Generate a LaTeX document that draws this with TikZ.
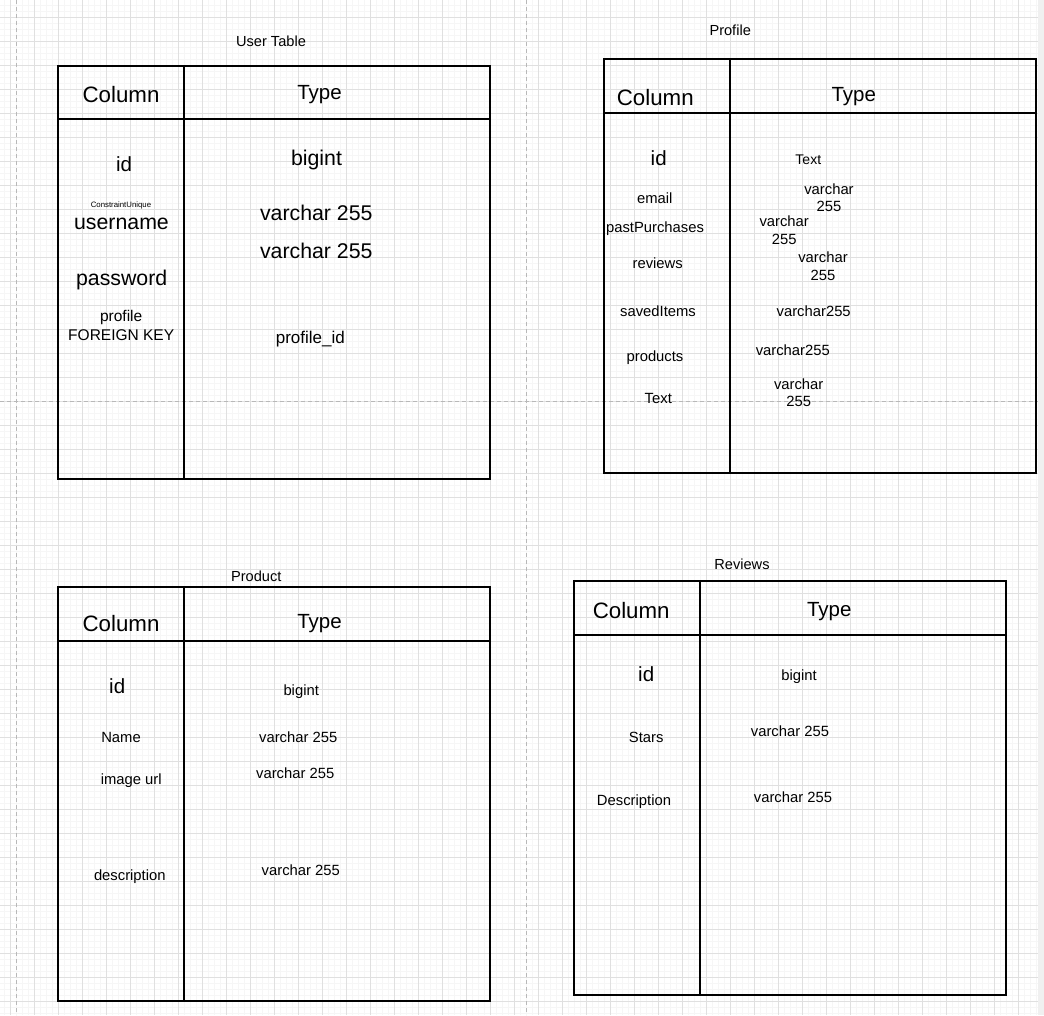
\documentclass[tikz,border=0pt]{standalone}
\usepackage{fontspec}
\setmainfont{Liberation Sans}
\newcommand\fsz[2]{\fontsize{#1}{#2}\selectfont}
\begin{document}
\begin{tikzpicture}[x=1pt,y=-1pt,
  minorgrid/.style={draw=black!3.5, line width=0.6pt},
  majorgrid/.style={draw=black!12, line width=0.9pt},
  pagebreak/.style={draw=black!28, line width=1pt, dash pattern=on 4pt off 3pt},
  tbl/.style={draw=black, line width=1.3pt},
  lbl/.style={inner sep=0pt, anchor=base, text=black},
  title/.style={lbl, font=\fsz{14.6}{17}},
  colhead/.style={lbl, font=\fsz{22.3}{26}},
  typehead/.style={lbl, font=\fsz{20.5}{24}},
  big/.style={lbl, font=\fsz{21.3}{25}},
  small/.style={lbl, font=\fsz{14.8}{17.4}, align=center}
]
\useasboundingbox (0,0) rectangle (1044,1015);
\fill[white] (0,0) rectangle (1044,1015);
% grid
\begin{scope}
\clip (0,0) rectangle (1038,1015);
\foreach \i in {0,...,172} \draw[minorgrid] ({4.5+6*\i},0) -- ({4.5+6*\i},1015);
\foreach \i in {0,...,168} \draw[minorgrid] (0,{5.5+6*\i}) -- (1038,{5.5+6*\i});
\foreach \i in {0,...,42} \draw[majorgrid] ({10.5+24*\i},0) -- ({10.5+24*\i},1015);
\foreach \i in {0,...,41} \draw[majorgrid] (0,{17.5+24*\i}) -- (1038,{17.5+24*\i});
% page breaks
\draw[pagebreak] (16,0) -- (16,1015);
\draw[pagebreak] (526,0) -- (526,1015);
\draw[pagebreak] (0,401) -- (1038,401);
\end{scope}
\fill[black!6] (1038,0) rectangle (1044,1015);

% ---------- User Table ----------
\node[title] (ut) at (271,46.7) {User Table};
\draw[tbl] (58,66) rectangle (490,479);
\draw[tbl] (184,66) -- (184,479);
\draw[tbl] (58,119) -- (490,119);
\node[colhead] (utc) at (121,102.7) {Column};
\node[typehead] (utt) at (319.5,99.7) {Type};
\node[lbl, font=\fsz{20.5}{24}] (ut1) at (124,171.7) {id};
\node[big] (ut1t) at (316.5,165) {bigint};
\node[lbl, font=\fsz{7.8}{9}] (utcu) at (121,207.3) {ConstraintUnique};
\node[big] (ut2) at (121.5,229.3) {username};
\node[big] (ut2t) at (316.3,220) {varchar 255};
\node[big] (ut3t) at (316.3,258.3) {varchar 255};
\node[big] (ut3) at (121.7,285) {password};
\node[lbl, font=\fsz{15.5}{19}, align=center] (ut4) at (121.2,340.7) {profile\\FOREIGN KEY};
\node[lbl, font=\fsz{17}{20}] (ut4t) at (310.3,343.5) {profile\_id};

% ---------- Profile ----------
\node[title] (pt) at (730.2,35) {Profile};
\draw[tbl] (604,59) rectangle (1036,473);
\draw[tbl] (730,59) -- (730,473);
\draw[tbl] (604,113) -- (1036,113);
\node[colhead] (ptc) at (655.3,105) {Column};
\node[typehead] (ptt) at (853.8,101.7) {Type};
\node[lbl, font=\fsz{20.5}{24}] (p1) at (658.7,165.7) {id};
\node[lbl, font=\fsz{14}{17}] (p1t) at (808.3,164) {Text};
\node[small] (p2) at (654.8,203.3) {email};
\node[small] (p2t) at (829,211.7) {varchar\\255};
\node[small] (p3) at (655,232.7) {pastPurchases};
\node[small] (p3t) at (784.2,244) {varchar\\255};
\node[small] (p4) at (657.7,268.3) {reviews};
\node[small] (p4t) at (823,280) {varchar\\255};
\node[small] (p5) at (658,316.7) {savedItems};
\node[small] (p5t) at (813.7,316.7) {varchar255};
\node[small] (p6) at (655,361.7) {products};
\node[small] (p6t) at (792.8,355) {varchar255};
\node[small] (p7) at (658.3,403.3) {Text};
\node[small] (p7t) at (798.7,406.7) {varchar\\255};

% ---------- Product ----------
\node[title] (prt) at (256.3,581) {Product};
\draw[tbl] (58,587) rectangle (490,1001);
\draw[tbl] (184,587) -- (184,1001);
\draw[tbl] (58,641) -- (490,641);
\node[colhead] (prc) at (121,631) {Column};
\node[typehead] (prtt) at (319.5,628) {Type};
\node[lbl, font=\fsz{20.5}{24}] (r1) at (117.2,693.3) {id};
\node[small] (r1t) at (301.2,695) {bigint};
\node[small] (r2) at (121,742.7) {Name};
\node[small] (r2t) at (298.2,742.7) {varchar 255};
\node[small] (r3) at (131.2,784) {image url};
\node[small] (r3t) at (295.2,778.3) {varchar 255};
\node[small] (r4) at (129.8,880.7) {description};
\node[small] (r4t) at (300.8,875) {varchar 255};

% ---------- Reviews ----------
\node[title] (rvt) at (742,569) {Reviews};
\draw[tbl] (574,581) rectangle (1006,995);
\draw[tbl] (700,581) -- (700,995);
\draw[tbl] (574,635) -- (1006,635);
\node[colhead] (rvc) at (631.2,618.3) {Column};
\node[typehead] (rvtt) at (829.3,616) {Type};
\node[lbl, font=\fsz{20.5}{24}] (v1) at (646.2,681) {id};
\node[small] (v1t) at (799,680) {bigint};
\node[small] (v2) at (646.2,742.7) {Stars};
\node[small] (v2t) at (790,736.7) {varchar 255};
\node[small] (v3) at (634,805.7) {Description};
\node[small] (v3t) at (793,802.3) {varchar 255};
\end{tikzpicture}
\end{document}
